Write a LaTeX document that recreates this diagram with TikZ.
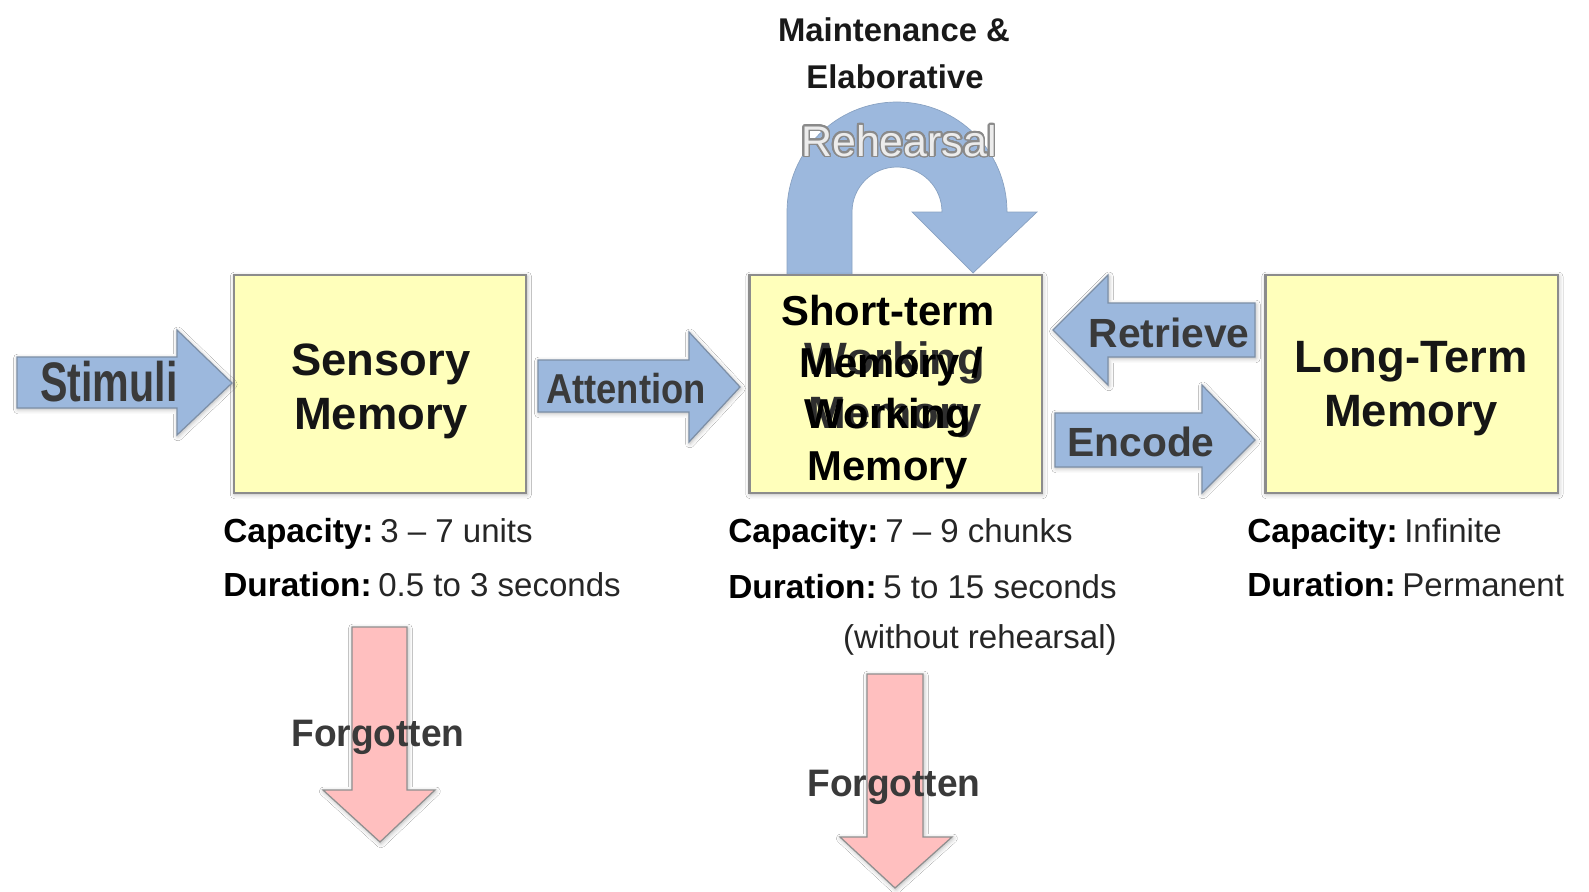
\documentclass[tikz,border=0pt]{standalone}
\usepackage{fontspec}
\setmainfont{Liberation Sans}
\usepackage{graphicx}
\usepackage{contour}
\usetikzlibrary{shadows.blur}

\definecolor{boxfill}{HTML}{FFFFBB}
\definecolor{boxline}{HTML}{8C8C8C}
\definecolor{arrowblue}{HTML}{9CB8DD}
\definecolor{arrowline}{HTML}{7D8FA6}
\definecolor{forgetpink}{HTML}{FFBFBF}
\definecolor{forgetline}{HTML}{8F8F8F}
\definecolor{labelgray}{HTML}{3A3A3A}
\definecolor{boxtext}{HTML}{151515}
\definecolor{oldtext}{HTML}{2E2E2E}
\definecolor{captiontext}{HTML}{262626}
\definecolor{rehearsalfill}{HTML}{ECECEC}
\definecolor{rehearsaledge}{HTML}{8A8A8A}

\contourlength{0.9pt}
\contournumber{24}

% a bold key followed by its value, as in the notes under each store
\newcommand{\keyvalue}[2]{{\fontsize{19pt}{22pt}\selectfont\bfseries\color{black}#1}\hspace{3.8pt}{\fontsize{18.8pt}{22pt}\selectfont #2}}

\begin{document}
\begin{tikzpicture}[x=0.02cm, y=-0.02cm,
  softshadow/.style={blur shadow={shadow xshift=0.5pt, shadow yshift=-0.8pt,
      shadow blur radius=2.5pt, shadow opacity=30}},
  memorybox/.style={draw=boxline, line width=1.4pt, fill=boxfill, inner sep=0pt,
      minimum width=5.85cm, minimum height=4.36cm, softshadow},
  blockarrow/.style={draw=arrowline, line width=0.7pt, fill=arrowblue, line join=miter, softshadow},
  forgetarrow/.style={draw=forgetline, line width=0.7pt, fill=forgetpink, line join=miter, softshadow},
  labeltext/.style={inner sep=0pt, text=labelgray, font=\bfseries},
  boxlabel/.style={inner sep=0pt, text=boxtext, font=\fontsize{25.8pt}{30pt}\selectfont\bfseries},
  oldlabel/.style={inner sep=0pt, text=oldtext, font=\fontsize{25.8pt}{30pt}\selectfont\bfseries},
  newlabel/.style={inner sep=0pt, text=black, font=\fontsize{23.8pt}{29pt}\selectfont\bfseries},
  caption/.style={inner sep=0pt, text=captiontext},
]
\fill[white] (0,0) rectangle (1589,892);
\useasboundingbox (0,0) rectangle (1589,892);

% rehearsal loop above the short-term store
\fill[arrowblue, draw=arrowblue!88!black, line width=0.4pt]
  (787,275) -- (787,212) arc[start angle=180, end angle=360, radius=110]
  -- (1037,212) -- (973,273) -- (912,212) -- (942,212)
  arc[start angle=0, end angle=-180, radius=45] -- (852,275) -- cycle;

% the three stores
\node[memorybox] (sensory) at (380,384) {};
\node[memorybox] (shortterm) at (895.5,384) {};
\node[memorybox] (longterm) at (1411.5,384) {};

% block arrows between the stores
\draw[blockarrow] (17,357) -- (177,357) -- (177,330) -- (232,383) -- (177,435) -- (177,408) -- (17,408) -- cycle;
\draw[blockarrow] (538,360) -- (689,360) -- (689,332) -- (740,387) -- (689,442) -- (689,412) -- (538,412) -- cycle;
\draw[blockarrow] (1255,303) -- (1108,303) -- (1108,275) -- (1053,330) -- (1108,385) -- (1108,357) -- (1255,357) -- cycle;
\draw[blockarrow] (1055,413) -- (1202,413) -- (1202,385) -- (1255,440) -- (1202,493) -- (1202,467) -- (1055,467) -- cycle;

% forgetting arrows
\draw[forgetarrow] (352,627) -- (407,627) -- (407,790) -- (435,790) -- (380,842) -- (323,790) -- (352,790) -- cycle;
\draw[forgetarrow] (867,674) -- (923,674) -- (923,837) -- (952,837) -- (895,888) -- (840,837) -- (867,837) -- cycle;

% arrow labels
\node[labeltext, anchor=base] (stimuli) at (109,401) {\fontsize{31.7pt}{36pt}\selectfont\scalebox{0.74}[1]{Stimuli}};
\node[labeltext, anchor=base] (attention) at (626,403) {\fontsize{23.8pt}{28pt}\selectfont\scalebox{0.87}[1]{Attention}};
\node[labeltext, anchor=base] (retrieve) at (1169,347) {\fontsize{23.2pt}{28pt}\selectfont Retrieve};
\node[labeltext, anchor=base] (encode) at (1141,456) {\fontsize{23.2pt}{28pt}\selectfont Encode};
\node[labeltext, anchor=base] (forgot1) at (378,746) {\fontsize{21.8pt}{26pt}\selectfont\scalebox{0.97}[1]{Forgotten}};
\node[labeltext, anchor=base] (forgot2) at (894,796) {\fontsize{21.8pt}{26pt}\selectfont\scalebox{0.97}[1]{Forgotten}};

% rehearsal labels
\node[inner sep=0pt, anchor=base, text=black!90, font=\fontsize{18.7pt}{22pt}\selectfont\bfseries] (maint1) at (894,42) {Maintenance \&};
\node[inner sep=0pt, anchor=base, text=black!90, font=\fontsize{18.7pt}{22pt}\selectfont\bfseries] (maint2) at (895,89) {Elaborative};
\node[inner sep=0pt, anchor=base, font=\fontsize{24.4pt}{28pt}\selectfont] (rehearsal) at (899,156)
  {\contour{rehearsaledge}{\textcolor{rehearsalfill}{Rehearsal}}};

% store names
\node[boxlabel, anchor=base] (sens1) at (381,375) {Sensory};
\node[boxlabel, anchor=base] (sens2) at (381,429) {Memory};
\node[boxlabel, anchor=base] (ltm1) at (1411,372) {Long-Term};
\node[boxlabel, anchor=base] (ltm2) at (1411,426) {Memory};
\node[oldlabel, anchor=base] (wm1) at (895,374) {Working};
\node[oldlabel, anchor=base] (wm2) at (895,428) {Memory};
\node[newlabel, anchor=base] (stm1) at (888,325) {Short-term};
\node[newlabel, anchor=base] (stm2) at (891,377) {Memory /};
\node[newlabel, anchor=base] (stm3) at (888,428) {Working};
\node[newlabel, anchor=base] (stm4) at (888,480) {Memory};

% capacity and duration notes
\node[caption, anchor=base west] (capS) at (223,542) {\keyvalue{Capacity:}{3 – 7 units}};
\node[caption, anchor=base west] (durS) at (223,596) {\keyvalue{Duration:}{0.5 to 3 seconds}};
\node[caption, anchor=base west] (capW) at (728,542) {\keyvalue{Capacity:}{7 – 9 chunks}};
\node[caption, anchor=base west] (durW) at (728,598) {\keyvalue{Duration:}{5 to 15 seconds}};
\node[caption, anchor=base east, font=\fontsize{18.8pt}{22pt}\selectfont] (durW2) at (1117,648) {(without rehearsal)};
\node[caption, anchor=base west] (capL) at (1247,542) {\keyvalue{Capacity:}{Infinite}};
\node[caption, anchor=base west] (durL) at (1247,596) {\keyvalue{Duration:}{Permanent}};
\end{tikzpicture}
\end{document}
